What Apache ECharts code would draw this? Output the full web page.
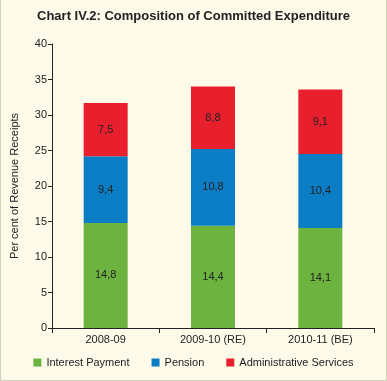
<!DOCTYPE html>
<html><head><meta charset="utf-8">
<script src="https://cdn.jsdelivr.net/npm/echarts@6/dist/echarts.min.js"></script>
<style>html,body{margin:0;padding:0;background:#fefaea}#c{width:387px;height:381px;box-sizing:border-box;border:1px solid #cfd0b8;border-top:none}</style>
</head><body><div id="c"></div>
<script>
const categories = ['2008-09', '2009-10 (RE)', '2010-11 (BE)'];
const interestPayment = [14.8, 14.4, 14.1];
const pension = [9.4, 10.8, 10.4];
const adminServices = [7.5, 8.8, 9.1];
const yTicks = [0, 5, 10, 15, 20, 25, 30, 35, 40];

const chart = echarts.init(document.getElementById('c'));
const lbl = {show: true, position: 'inside', color: '#222', fontSize: 11, fontFamily: 'Liberation Sans, Arial, sans-serif',
  formatter: p => p.value.toFixed(1).replace('.', ',')};
function s(name, data, color) {
  return {name, type: 'bar', stack: 'a', data, barWidth: 44, itemStyle: {color}, label: lbl};
}
chart.setOption({
  backgroundColor: '#fefaea',
  animation: false,
  textStyle: {fontFamily: 'Liberation Sans, Arial, sans-serif'},
  title: {text: 'Chart IV.2: Composition of Committed Expenditure', left: 'center', top: 5,
    textStyle: {fontSize: 13, fontWeight: 'bold', color: '#222'}},
  grid: {left: 50, right: 12, top: 44, bottom: 52, containLabel: false},
  legend: {bottom: 7, left: 'center', itemWidth: 8, itemHeight: 8, itemGap: 22,
    textStyle: {fontSize: 11, color: '#222'}, icon: 'rect',
    data: ['Interest Payment', 'Pension', 'Administrative Services']},
  xAxis: {type: 'category', data: categories,
    axisLine: {lineStyle: {color: '#222'}}, axisTick: {show: true, length: 5, lineStyle: {color: '#222'}},
    axisLabel: {color: '#222', fontSize: 11, margin: 6}},
  yAxis: {type: 'value', min: 0, max: 40, interval: 5,
    name: 'Per cent of Revenue Receipts', nameLocation: 'middle', nameGap: 32,
    nameTextStyle: {fontSize: 11, color: '#222'},
    axisLine: {show: true, lineStyle: {color: '#222'}}, axisTick: {show: true, length: 4, lineStyle: {color: '#222'}},
    splitLine: {show: false},
    axisLabel: {color: '#222', fontSize: 11, margin: 5, formatter: v => yTicks.includes(v) ? String(v) : ''}},
  series: [
    s('Interest Payment', interestPayment, '#6db33f'),
    s('Pension', pension, '#0a7dc4'),
    s('Administrative Services', adminServices, '#e8202e')
  ]
});
</script></body></html>
